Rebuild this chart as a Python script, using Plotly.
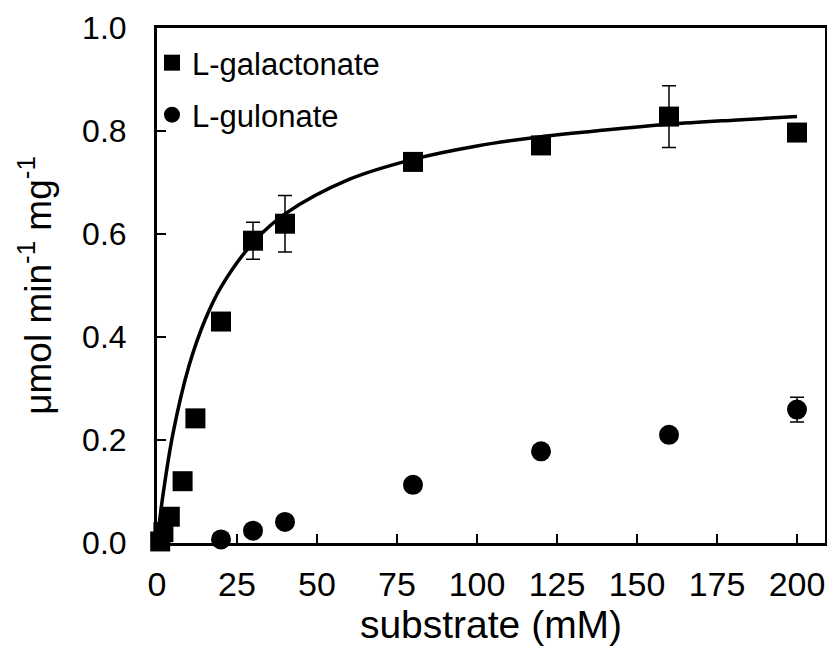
import plotly.graph_objects as go

# L-galactonate (squares)
gal_x = [1, 2, 4, 8, 12, 20, 30, 40, 80, 120, 160, 200]
gal_y = [0.003, 0.021, 0.051, 0.12, 0.242, 0.43, 0.587, 0.62, 0.74, 0.772, 0.828, 0.797]
gal_err = [0, 0, 0, 0.006, 0, 0, 0.036, 0.055, 0.012, 0, 0.06, 0]

# L-gulonate (circles)
gul_x = [20, 30, 40, 80, 120, 160, 200]
gul_y = [0.007, 0.024, 0.041, 0.113, 0.178, 0.21, 0.259]
gul_err = [0, 0, 0, 0, 0, 0, 0.024]

# Fitted curve
fit_x = [0.5, 2, 5, 10, 15, 20, 30, 40, 60, 80, 100, 120, 140, 160, 180, 200]
fit_y = [0.027, 0.099, 0.213, 0.344, 0.433, 0.497, 0.583, 0.639, 0.706, 0.745,
         0.771, 0.789, 0.802, 0.813, 0.821, 0.828]

x_ticks = [0, 25, 50, 75, 100, 125, 150, 175, 200]
y_ticks = [0.0, 0.2, 0.4, 0.6, 0.8, 1.0]

FONT = "Liberation Sans, Arial, sans-serif"

fig = go.Figure()

fig.add_trace(go.Scatter(
    x=fit_x, y=fit_y, mode="lines", line=dict(color="black", width=3.5, shape="spline"),
    showlegend=False, hoverinfo="skip", cliponaxis=False))

fig.add_trace(go.Scatter(
    x=gal_x, y=gal_y, mode="markers", name="L-galactonate",
    marker=dict(symbol="square", size=20, color="black"),
    error_y=dict(type="data", array=gal_err, visible=True, color="black", thickness=1.5, width=7),
    cliponaxis=False, legend="legend"))

fig.add_trace(go.Scatter(
    x=gul_x, y=gul_y, mode="markers", name="L-gulonate",
    marker=dict(symbol="circle", size=20, color="black"),
    error_y=dict(type="data", array=gul_err, visible=True, color="black", thickness=1.5, width=7),
    cliponaxis=False, legend="legend2"))

axis_common = dict(
    showline=True, linecolor="black", linewidth=3, mirror=True,
    ticks="inside", tickcolor="black", tickwidth=1.5, ticklen=9,
    showgrid=False, zeroline=False, automargin=False,
)

fig.update_layout(
    width=827, height=657,
    margin=dict(l=157, r=2, t=28, b=114),
    paper_bgcolor="white", plot_bgcolor="white",
    xaxis=dict(range=[0, 208.75], tickvals=x_ticks, ticktext=[str(v) for v in x_ticks],
               ticklabelstandoff=9,
               tickfont=dict(family=FONT, size=34, color="black"),
               title=dict(text="substrate (mM)", font=dict(family=FONT, size=39, color="black"),
                          standoff=4),
               **axis_common),
    yaxis=dict(range=[0, 1], tickvals=y_ticks, ticktext=[f"{v:.1f}" for v in y_ticks],
               ticklabelstandoff=21,
               tickfont=dict(family=FONT, size=32, color="black"),
               title=dict(text="μmol min<sup>-1</sup> mg<sup>-1</sup>",
                          font=dict(family=FONT, size=37, color="black"), standoff=20),
               **axis_common),
    legend=dict(x=-0.0075, y=0.932, xanchor="left", yanchor="middle",
                bgcolor="rgba(0,0,0,0)", font=dict(family=FONT, size=31, color="black"),
                itemwidth=30),
    legend2=dict(x=-0.0075, y=0.831, xanchor="left", yanchor="middle",
                 bgcolor="rgba(0,0,0,0)", font=dict(family=FONT, size=31, color="black"),
                 itemwidth=30),
)

# remove the default page margin so the figure sits at the window's top-left corner
fig.write_html("out.html",
               config={"displayModeBar": False},
               post_script="document.body.style.margin='0';document.body.style.overflow='hidden';")
